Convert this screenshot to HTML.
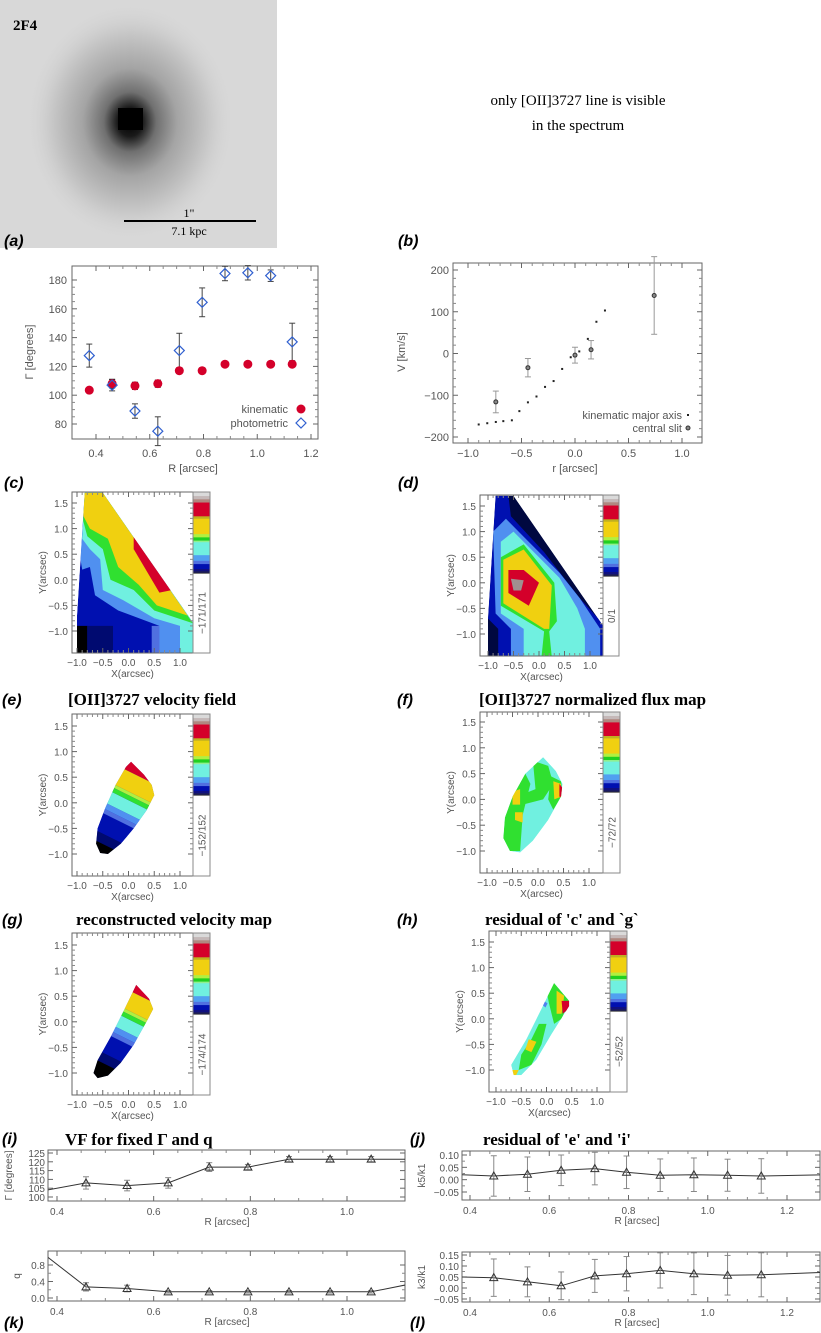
<!DOCTYPE html>
<html><head><meta charset="utf-8">
<style>
html,body{margin:0;padding:0;background:#fff;overflow:hidden;width:821px;height:1333px;}
svg{display:block;}
text{font-family:"Liberation Sans",sans-serif;}
.tk{font-size:11px;fill:#555;}
.tks{font-size:10px;fill:#555;}
.ttl{font-family:"Liberation Serif",serif;font-weight:bold;font-size:17px;fill:#000;}
.pl{font-family:"Liberation Sans",sans-serif;font-weight:bold;font-style:italic;font-size:16px;fill:#000;}
</style></head>
<body>
<svg id="fig" width="821" height="1333" viewBox="0 0 821 1333" xmlns="http://www.w3.org/2000/svg">
<defs>
<radialGradient id="gal" cx="0.5" cy="0.5" r="0.5">
<stop offset="0" stop-color="#000"/>
<stop offset="0.12" stop-color="#1a1a1a"/>
<stop offset="0.25" stop-color="#707070"/>
<stop offset="0.45" stop-color="#a4a4a4"/>
<stop offset="0.75" stop-color="#c8c8c8"/>
<stop offset="1" stop-color="#d8d8d8" stop-opacity="0"/>
</radialGradient>
</defs>
<g>
<rect x="0" y="0" width="277" height="248" fill="#d8d8d8"/>
<ellipse cx="130" cy="122" rx="105" ry="120" fill="url(#gal)"/>
<rect x="118" y="108" width="25" height="22" fill="#000"/>
<text x="13" y="30" style="font-family:'Liberation Serif',serif;font-weight:bold;font-size:15px;">2F4</text>
<text x="189" y="217" text-anchor="middle" style="font-family:'Liberation Serif',serif;font-size:12px;">1"</text>
<line x1="124" y1="221" x2="256" y2="221" stroke="#000" stroke-width="2"/>
<text x="189" y="235" text-anchor="middle" style="font-family:'Liberation Serif',serif;font-size:12px;">7.1 kpc</text>
</g>
<text x="578" y="105" text-anchor="middle" style="font-family:'Liberation Serif',serif;font-size:15px;">only [OII]3727 line is visible</text>
<text x="578" y="130" text-anchor="middle" style="font-family:'Liberation Serif',serif;font-size:15px;">in the spectrum</text>

<text class="pl" x="4" y="246">(a)</text>
<text class="pl" x="398" y="246">(b)</text>
<text class="pl" x="4" y="488">(c)</text>
<text class="pl" x="398" y="488">(d)</text>
<text class="pl" x="2" y="705">(e)</text>
<text class="pl" x="397" y="705">(f)</text>
<text class="pl" x="2" y="925">(g)</text>
<text class="pl" x="397" y="925">(h)</text>
<text class="pl" x="2" y="1144">(i)</text>
<text class="pl" x="410" y="1144">(j)</text>
<text class="pl" x="4" y="1328">(k)</text>
<text class="pl" x="410" y="1328">(l)</text>

<text class="ttl" x="68" y="705">[OII]3727 velocity field</text>
<text class="ttl" x="479" y="705">[OII]3727 normalized flux map</text>
<text class="ttl" x="76" y="925">reconstructed velocity map</text>
<text class="ttl" x="485" y="925">residual of 'c' and `g`</text>
<text class="ttl" x="65" y="1145">VF for fixed Γ and q</text>
<text class="ttl" x="483" y="1145">residual of 'e' and 'i'</text>
</svg>
<script>
// ---------- data ----------
const radiiC = [0.375,0.46,0.545,0.63,0.71,0.795,0.88,0.965,1.05,1.13];
const kinPA = [103.5,108,106.5,108,117,117,121.5,121.5,121.5,121.5];
const kinPAErr = [1,3,2.5,2.5,2,2,1.5,1.5,1.5,1.5];
const photPA = [127.5,107,89,75,131,164.5,184.5,185,183,137];
const photPAErr = [8,4,5,10,12,10,5,5,4,13];
const paTicks = [80,100,120,140,160,180];
const rTicksC = [0.4,0.6,0.8,1.0,1.2];

const kinAxisR = [-0.9,-0.82,-0.74,-0.67,-0.59,-0.52,-0.44,-0.36,-0.28,-0.2,-0.12,-0.04,0.04,0.12,0.2,0.28];
const kinAxisV = [-170,-167,-164,-162,-160,-138,-117,-103,-80,-66,-37,-9,5,35,76,103];
const slitR = [-0.74,-0.44,0,0.15,0.74];
const slitV = [-116,-34,-4,9,139];
const slitErr = [26,22,19,22,93];
const vTicks = [-200,-100,0,100,200];
const rTicksD = [-1.0,-0.5,0.0,0.5,1.0];

const radiiI = [0.38,0.46,0.545,0.63,0.715,0.795,0.88,0.965,1.05,1.135];
const fixedPA = [104,108,106.5,108,117,117,121.5,121.5,121.5,121.5];
const fixedPAErr = [0,3.5,3,3,2.5,1.5,1.5,1.5,1.5,0];
const fixedQ = [1.0,0.27,0.23,0.15,0.15,0.15,0.15,0.15,0.15,0.35];
const fixedQErr = [0,0.1,0.08,0.03,0.03,0.03,0.03,0.03,0.03,0];
const radiiJ = [0.38,0.46,0.545,0.63,0.715,0.795,0.88,0.965,1.05,1.135,1.3];
const k5 = [0.02,0.015,0.022,0.038,0.045,0.03,0.018,0.02,0.018,0.015,0.02];
const k5Err = [0,0.082,0.07,0.062,0.066,0.066,0.066,0.068,0.065,0.07,0];
const k3 = [0.05,0.047,0.028,0.01,0.055,0.065,0.08,0.065,0.058,0.06,0.072];
const k3Err = [0,0.085,0.068,0.063,0.075,0.078,0.08,0.095,0.09,0.1,0];

// map contour polygons in arcsec (x,y pairs)
const mapCShape = [[-0.85,1.7],[-0.5,1.7],[1.3,-0.9],[1.3,-1.45],[-1,-1.45],[-1,-0.7]];
const mapCBands = [
 ['#5070e0',[[0.45,-1.45],[0.45,-0.9],[1.3,-0.9],[1.3,-1.45]]],
 ['#5090f0',[[-0.85,1.7],[-0.5,1.7],[1.3,-0.9],[1.3,-1.45],[0.6,-1.45],[0.6,-0.9],[-0.2,-0.6],[-0.65,-0.3],[-0.75,0.25],[-0.9,0.2],[-0.95,0.5]]],
 ['#70f0e0',[[-0.85,1.7],[-0.5,1.7],[1.3,-0.9],[1.3,-1.45],[1.0,-1.45],[1.0,-0.9],[0.5,-0.75],[-0.1,-0.4],[-0.5,-0.2],[-0.55,0.4],[-0.75,0.6],[-0.9,0.8]]],
 ['#30e030',[[-0.85,1.7],[-0.5,1.7],[1.25,-0.85],[0.5,-0.6],[0.1,-0.2],[-0.35,0.0],[-0.5,0.6],[-0.8,0.85],[-0.88,1.15]]],
 ['#f0d010',[[-0.85,1.7],[-0.5,1.7],[1.15,-0.7],[0.55,-0.5],[0.2,-0.1],[-0.2,0.25],[-0.4,0.8],[-0.75,1.0],[-0.88,1.25]]],
 ['#d4002a',[[0.1,0.85],[0.85,-0.2],[0.6,-0.25],[0.1,0.6]]],
 ['#000000',[[-1,-0.9],[-0.8,-0.9],[-0.8,-1.45],[-1,-1.45]]],
 ['#000a70',[[-0.8,-0.9],[-0.3,-0.9],[-0.3,-1.45],[-0.8,-1.45]]]
];
const mapDBands = [
 ['#0010b0',[[-0.85,1.7],[-0.6,1.7],[-0.55,1.3],[0.1,0.6],[0.8,-0.3],[1.3,-0.85],[1.3,-1.45],[-0.8,-1.45],[-0.8,-0.9],[-1,-0.7]]],
 ['#5090f0',[[-0.9,1.0],[-0.65,1.25],[-0.3,0.9],[0.4,0.2],[0.8,-0.3],[1.2,-0.9],[1.2,-1.45],[-0.55,-1.45],[-0.55,-0.9],[-0.85,-0.6]]],
 ['#70f0e0',[[-0.75,0.8],[-0.5,1.0],[0.4,0.1],[0.75,-0.5],[0.9,-0.9],[0.9,-1.45],[-0.3,-1.45],[-0.3,-0.9],[-0.75,-0.6]]],
 ['#30e030',[[-0.75,0.5],[-0.3,0.75],[0.3,0.0],[0.35,-0.75],[0.2,-0.95],[0.25,-1.45],[0.05,-1.45],[0.1,-0.95],[-0.75,-0.45]]],
 ['#f0d010',[[-0.7,0.45],[-0.3,0.65],[0.25,-0.05],[0.2,-0.9],[0.1,-0.9],[-0.7,-0.4]]],
 ['#d4002a',[[-0.6,0.25],[-0.3,0.25],[0.0,0.0],[-0.2,-0.45],[-0.6,-0.2]]],
 ['#a09090',[[-0.55,0.08],[-0.3,0.05],[-0.35,-0.15],[-0.5,-0.15]]]
];
const mapEShape = [[0.05,0.8],[0.3,0.55],[0.45,0.35],[0.5,0.15],[0.35,-0.15],[0.1,-0.5],[-0.15,-0.8],[-0.4,-1.0],[-0.55,-0.98],[-0.63,-0.8],[-0.6,-0.5],[-0.45,-0.1],[-0.25,0.35],[-0.05,0.7]];
const mapGShape = [[0.15,0.72],[0.4,0.45],[0.48,0.25],[0.35,0.0],[0.1,-0.45],[-0.15,-0.8],[-0.4,-1.05],[-0.6,-1.1],[-0.68,-1.0],[-0.6,-0.75],[-0.35,-0.3],[-0.1,0.2]];
const velBandCuts = [-1.05,-0.85,-0.45,-0.35,-0.22,0.05,0.15,0.22,0.62];
const velBandColors = ['#000000','#000a70','#0010b0','#5070e0','#5090f0','#70f0e0','#30e030','#b0f040','#f0d010','#d4002a'];
const mapFShape = [[0.1,0.82],[0.35,0.55],[0.48,0.3],[0.45,0.05],[0.2,-0.4],[-0.1,-0.8],[-0.35,-1.03],[-0.55,-1.0],[-0.68,-0.75],[-0.65,-0.35],[-0.5,0.05],[-0.25,0.5]];
const mapFPatches = [
 ['#30e030',[[-0.68,-0.75],[-0.65,-0.35],[-0.5,0.05],[-0.25,0.5],[-0.15,0.3],[-0.3,-0.3],[-0.35,-1.0],[-0.55,-1.0]]],
 ['#30e030',[[-0.1,0.75],[0.2,0.65],[0.3,0.3],[0.1,0.0],[-0.3,-0.1],[-0.3,0.1],[-0.05,0.2]]],
 ['#30e030',[[0.25,0.45],[0.45,0.35],[0.48,0.1],[0.3,-0.2],[0.2,0.0]]],
 ['#f0d010',[[-0.5,0.15],[-0.35,0.2],[-0.35,-0.1],[-0.5,-0.1]]],
 ['#f0d010',[[-0.45,-0.25],[-0.3,-0.25],[-0.3,-0.45],[-0.45,-0.4]]],
 ['#f0d010',[[0.3,0.35],[0.45,0.3],[0.45,0.05],[0.32,0.0]]],
 ['#d4002a',[[0.42,0.3],[0.5,0.2],[0.48,0.05],[0.42,0.05]]]
];
const mapHShape = [[0.15,0.7],[0.45,0.35],[0.45,0.25],[0.1,-0.3],[-0.2,-0.8],[-0.5,-1.1],[-0.65,-1.1],[-0.7,-0.9],[-0.4,-0.4],[-0.1,0.2]];
const mapHPatches = [
 ['#30e030',[[0.0,0.55],[0.15,0.7],[0.45,0.35],[0.3,0.0],[0.15,-0.1],[0.05,0.3]]],
 ['#30e030',[[-0.15,-0.1],[0.0,-0.1],[-0.1,-0.5],[-0.3,-0.9],[-0.55,-1.0],[-0.5,-0.7],[-0.3,-0.4]]],
 ['#f0d010',[[0.2,0.55],[0.35,0.45],[0.3,0.1],[0.2,0.1]]],
 ['#f0d010',[[-0.35,-0.4],[-0.2,-0.45],[-0.3,-0.65],[-0.42,-0.6]]],
 ['#f0d010',[[-0.68,-1.0],[-0.55,-1.0],[-0.6,-1.1],[-0.68,-1.1]]],
 ['#5080f0',[[-0.05,0.35],[0.02,0.3],[-0.02,0.22],[-0.08,0.27]]],
 ['#d4002a',[[0.3,0.35],[0.45,0.35],[0.45,0.2],[0.32,0.1]]]
];
const cbarColors = ['#dadada','#c4b8b8','#b08880','#d4002a','#c0b020','#f0d010','#b0f040','#20d020','#90f090','#70f0e0','#50a0f0','#5070e0','#0010b0','#101080','#202050','#000000'];
const cbarStops = [0,0.05,0.09,0.13,0.3,0.33,0.52,0.56,0.6,0.62,0.78,0.85,0.89,0.95,0.98,1.0,1.0];

// ---------- helpers ----------
const svg = document.getElementById('fig');
const NS = 'http://www.w3.org/2000/svg';
function add(parent, tag, attrs, name) {
  const el = document.createElementNS(NS, tag);
  for (const k in attrs) el.setAttribute(k, attrs[k]);
  
  
  parent.appendChild(el);
  return el;
}
function lin(d0,d1,r0,r1){ return v => r0 + (v-d0)*(r1-r0)/(d1-d0); }
function txt(parent, x, y, s, cls, anchor, name, rot) {
  const t = add(parent, 'text', {x:x, y:y, class:cls, 'text-anchor':anchor||'middle'}, name);
  if (rot) t.setAttribute('transform', 'rotate(-90 '+x+' '+y+')');
  t.textContent = s;
  return t;
}
function frame(g, x0,y0,x1,y1, xs, ys, xt, yt, xfmt, yfmt, cls, xlabY, ylabX, minorX, minorY) {
  add(g,'rect',{x:x0,y:y0,width:x1-x0,height:y1-y0,fill:'none',stroke:'#666','stroke-width':1},'plot-frame');
  xt.forEach(v => {
    const x = xs(v);
    add(g,'line',{x1:x,y1:y1,x2:x,y2:y1-5,stroke:'#666'},'x-tick');
    add(g,'line',{x1:x,y1:y0,x2:x,y2:y0+5,stroke:'#666'},'x-tick-top');
    txt(g, x, xlabY, xfmt(v), cls, 'middle', 'x-tick-label');
  });
  yt.forEach(v => {
    const y = ys(v);
    add(g,'line',{x1:x0,y1:y,x2:x0+5,y2:y,stroke:'#666'},'y-tick');
    add(g,'line',{x1:x1,y1:y,x2:x1-5,y2:y,stroke:'#666'},'y-tick-right');
    txt(g, ylabX, y+4, yfmt(v), cls, 'end', 'y-tick-label');
  });
  if (minorX) { for (let i=0;i<xt.length-1;i++){ for(let k=1;k<minorX;k++){ const x=xs(xt[i]+(xt[i+1]-xt[i])*k/minorX);
    add(g,'line',{x1:x,y1:y1,x2:x,y2:y1-3,stroke:'#888'},'x-minor-tick');
    add(g,'line',{x1:x,y1:y0,x2:x,y2:y0+3,stroke:'#888'},'x-minor-tick-top'); } } }
  if (minorY) { for (let i=0;i<yt.length-1;i++){ for(let k=1;k<minorY;k++){ const y=ys(yt[i]+(yt[i+1]-yt[i])*k/minorY);
    add(g,'line',{x1:x0,y1:y,x2:x0+3,y2:y,stroke:'#888'},'y-minor-tick');
    add(g,'line',{x1:x1,y1:y,x2:x1-3,y2:y,stroke:'#888'},'y-minor-tick-right'); } } }
}
const f1 = v => v.toFixed(1);
const f0 = v => String(v).replace('-', '\u2212');
const f1m = v => v.toFixed(1).replace('-', '\u2212');
const f2m = v => v.toFixed(2).replace('-', '\u2212');
function errbar(g, x, y0, y1, color, name) {
  add(g,'line',{x1:x,y1:y0,x2:x,y2:y1,stroke:color,'stroke-width':1},name);
  add(g,'line',{x1:x-3,y1:y0,x2:x+3,y2:y0,stroke:color},name+'-cap');
  add(g,'line',{x1:x-3,y1:y1,x2:x+3,y2:y1,stroke:color},name+'-cap');
}
function pts(arr, xs, ys){ return arr.map(p => xs(p[0]).toFixed(1)+','+ys(p[1]).toFixed(1)).join(' '); }

// ---------- panel c: PA ----------
(function(){
  const g = add(svg,'g',{},'pa-chart');
  const xs = lin(0.4,1.2,96,311), ys = lin(80,180,424,280);
  frame(g,72,266,318,439,xs,ys,rTicksC,paTicks,f1,f0,'tk',457,67,4,4);
  txt(g,33,352,'Γ [degrees]','tk','middle','y-axis-title',true);
  txt(g,193,472,'R [arcsec]','tk','middle','x-axis-title');
  radiiC.forEach((r,i) => {
    errbar(g, xs(r), ys(photPA[i]-photPAErr[i]), ys(photPA[i]+photPAErr[i]), '#444', 'photometric-error');
    errbar(g, xs(r), ys(kinPA[i]-kinPAErr[i]), ys(kinPA[i]+kinPAErr[i]), '#222', 'kinematic-error');
    add(g,'circle',{cx:xs(r),cy:ys(kinPA[i]),r:4.5,fill:'#d4002a'},'kinematic-point');
    const x=xs(r), y=ys(photPA[i]);
    add(g,'polygon',{points:`${x},${y-5} ${x+5},${y} ${x},${y+5} ${x-5},${y}`,fill:'none',stroke:'#3060d0','stroke-width':1.2},'photometric-point');
  });
  txt(g,288,413,'kinematic','tk','end','legend-kinematic');
  add(g,'circle',{cx:301,cy:409,r:4.5,fill:'#d4002a'},'legend-kinematic-marker');
  txt(g,288,427,'photometric','tk','end','legend-photometric');
  add(g,'polygon',{points:'301,418 306,423 301,428 296,423',fill:'none',stroke:'#3060d0','stroke-width':1.2},'legend-photometric-marker');
})();

// ---------- panel d: rotation curve ----------
(function(){
  const g = add(svg,'g',{},'rotation-curve-chart');
  const xs = lin(-1,1,468,682), ys = lin(-200,200,437,270);
  frame(g,453,263,702,443,xs,ys,rTicksD,vTicks,f1m,f0,'tk',457,449,5,5);
  txt(g,405,352,'V [km/s]','tk','middle','y-axis-title',true);
  txt(g,575,472,'r [arcsec]','tk','middle','x-axis-title');
  kinAxisR.forEach((r,i) => add(g,'rect',{x:xs(r)-1,y:ys(kinAxisV[i])-1,width:2,height:2,fill:'#222'},'major-axis-point'));
  slitR.forEach((r,i) => {
    errbar(g, xs(r), ys(slitV[i]-slitErr[i]), ys(slitV[i]+slitErr[i]), '#999', 'slit-error');
    add(g,'circle',{cx:xs(r),cy:ys(slitV[i]),r:2,fill:'#888',stroke:'#333'},'slit-point');
  });
  txt(g,682,419,'kinematic major axis','tk','end','legend-major-axis');
  add(g,'rect',{x:687,y:414,width:2,height:2,fill:'#222'},'legend-major-axis-marker');
  txt(g,682,432,'central slit','tk','end','legend-central-slit');
  add(g,'circle',{cx:688,cy:428,r:2,fill:'#888',stroke:'#333'},'legend-central-slit-marker');
})();

// ---------- maps ----------
let clipId = 0;
function mapPanel(spec){
  const g = add(svg,'g',{},spec.name);
  const xs = lin(-1,1,spec.xm1,spec.xp1), ys = lin(-1,1.5,spec.ym1,spec.yp15);
  const id = 'clip'+(clipId++);
  const defs = add(g,'defs',{},'map-defs');
  const cp = add(defs,'clipPath',{id:id},'map-clip');
  add(cp,'polygon',{points:pts(spec.shape,xs,ys)},'map-clip-shape');
  const fc = 'fclip'+(clipId++);
  const cp2 = add(defs,'clipPath',{id:fc},'frame-clip');
  add(cp2,'rect',{x:spec.x0,y:spec.y0,width:spec.x1-spec.x0,height:spec.y1-spec.y0},'frame-clip-rect');
  const outer = add(g,'g',{'clip-path':'url(#'+fc+')'},'map-area');
  const inner = add(outer,'g',{'clip-path':'url(#'+id+')'},'map-image');
  add(inner,'polygon',{points:pts(spec.shape,xs,ys),fill:spec.base},'map-base');
  if (spec.bands) spec.bands.forEach(b => add(inner,'polygon',{points:pts(b[1],xs,ys),fill:b[0]},'map-contour-band'));
  if (spec.vel) {
    const cuts = [-9].concat(velBandCuts).concat([9]);
    for (let i=0;i<velBandColors.length;i++){
      const a=cuts[i], b=cuts[i+1];
      const poly=[[-2,a+1],[2,a-1],[2,b-1],[-2,b+1]];
      add(inner,'polygon',{points:pts(poly,xs,ys),fill:velBandColors[i]},'velocity-band');
    }
  }
  frame(g,spec.x0,spec.y0,spec.x1,spec.y1,xs,ys,[-1,-0.5,0,0.5,1],[-1,-0.5,0,0.5,1.0,1.5],f1m,f1m,'tks',spec.y1+13,spec.x0-4,5,5);
  txt(g,spec.x0-26,(spec.y0+spec.y1)/2,'Y(arcsec)','tks','middle','y-axis-title',true);
  txt(g,(spec.x0+spec.x1)/2,spec.y1+24,'X(arcsec)','tks','middle','x-axis-title');
  const cx0=spec.x1, cx1=spec.cx1, ch=spec.cbEnd-spec.y0;
  for (let i=0;i<cbarColors.length;i++){
    add(g,'rect',{x:cx0,y:spec.y0+cbarStops[i]*ch,width:cx1-cx0,height:(cbarStops[i+1]-cbarStops[i])*ch+0.5,fill:cbarColors[i]},'colorbar-segment');
  }
  add(g,'rect',{x:cx0,y:spec.y0,width:cx1-cx0,height:spec.y1-spec.y0,fill:'none',stroke:'#888'},'colorbar-frame');
  txt(g,(cx0+cx1)/2+4,(spec.cbEnd+spec.y1)/2,spec.cbLabel,'tks','middle','colorbar-range-label',true);
}
mapPanel({name:'velocity-field-map-c',x0:72,y0:492,x1:193,y1:653,cx1:210,cbEnd:573,xm1:77,xp1:180,ym1:631,yp15:503,shape:mapCShape,base:'#0010b0',bands:mapCBands,cbLabel:'\u2212171/171'});
mapPanel({name:'flux-map-d',x0:480,y0:495,x1:603,y1:656,cx1:619,cbEnd:576,xm1:488,xp1:590,ym1:634,yp15:506,shape:mapCShape,base:'#000840',bands:mapDBands,cbLabel:'0/1'});
mapPanel({name:'velocity-field-map-e',x0:72,y0:714,x1:193,y1:876,cx1:210,cbEnd:795,xm1:77,xp1:180,ym1:854,yp15:726,shape:mapEShape,base:'#0010b0',vel:true,cbLabel:'\u2212152/152'});
mapPanel({name:'normalized-flux-map-f',x0:480,y0:712,x1:603,y1:873,cx1:620,cbEnd:792,xm1:487,xp1:589,ym1:851,yp15:722,shape:mapFShape,base:'#70f0e0',bands:mapFPatches,cbLabel:'\u221272/72'});
mapPanel({name:'reconstructed-velocity-map-g',x0:72,y0:933,x1:193,y1:1095,cx1:210,cbEnd:1014,xm1:77,xp1:180,ym1:1073,yp15:945,shape:mapGShape,base:'#0010b0',vel:true,cbLabel:'\u2212174/174'});
mapPanel({name:'residual-map-h',x0:489,y0:931,x1:610,y1:1092,cx1:627,cbEnd:1011,xm1:496,xp1:597,ym1:1070,yp15:942,shape:mapHShape,base:'#70f0e0',bands:mapHPatches,cbLabel:'\u221252/52'});

// ---------- bottom line panels ----------
function linePanel(o){
  const g = add(svg,'g',{},o.name);
  const fc='lclip'+(clipId++);
  const d=add(g,'defs',{},'line-defs');
  const cp=add(d,'clipPath',{id:fc},'line-clip');
  add(cp,'rect',{x:o.x0,y:o.y0,width:o.x1-o.x0,height:o.y1-o.y0},'line-clip-rect');
  frame(g,o.x0,o.y0,o.x1,o.y1,o.xs,o.ys,o.xt,o.yt,f1,o.yfmt,'tks',o.y1+14,o.x0-3,4,o.minorY);
  txt(g,o.ylabX,(o.y0+o.y1)/2,o.ylab,'tks','middle','y-axis-title',true);
  txt(g,o.xlabX,o.y1+24,'R [arcsec]','tks','middle','x-axis-title');
  const inner=add(g,'g',{'clip-path':'url(#'+fc+')'},'series-area');
  add(inner,'polyline',{points:o.r.map((r,i)=>o.xs(r).toFixed(1)+','+o.ys(o.v[i]).toFixed(1)).join(' '),fill:'none',stroke:'#333','stroke-width':1},'series-line');
  o.r.forEach((r,i)=>{
    if (o.e[i]>0){
      errbar(inner,o.xs(r),o.ys(o.v[i]-o.e[i]),o.ys(o.v[i]+o.e[i]),'#888','error-bar');
      const x=o.xs(r), y=o.ys(o.v[i]);
      add(inner,'polygon',{points:`${x},${y-4} ${x+4},${y+3} ${x-4},${y+3}`,fill:'none',stroke:'#333'},'triangle-point');
    }
  });
}
const xsI = lin(0.4,1.0,57,347);
linePanel({name:'pa-fixed-chart-i',x0:48,y0:1150,x1:405,y1:1201,xs:xsI,ys:lin(100,125,1197,1153),xt:[0.4,0.6,0.8,1.0],yt:[100,105,110,115,120,125],yfmt:f0,minorY:1,ylab:'Γ [degrees]',ylabX:12,xlabX:227,r:radiiI,v:fixedPA,e:fixedPAErr});
linePanel({name:'q-fixed-chart-k',x0:48,y0:1251,x1:405,y1:1301,xs:xsI,ys:lin(0,0.8,1298,1265),xt:[0.4,0.6,0.8,1.0],yt:[0,0.4,0.8],yfmt:f1,minorY:2,ylab:'q',ylabX:20,xlabX:227,r:radiiI,v:fixedQ,e:fixedQErr});
const xsJ = lin(0.4,1.2,470,787);
linePanel({name:'k5-chart-j',x0:462,y0:1151,x1:820,y1:1200,xs:xsJ,ys:lin(-0.05,0.10,1192,1155),xt:[0.4,0.6,0.8,1.0,1.2],yt:[-0.05,0,0.05,0.10],yfmt:f2m,minorY:2,ylab:'k5/k1',ylabX:425,xlabX:637,r:radiiJ,v:k5,e:k5Err});
linePanel({name:'k3-chart-l',x0:462,y0:1252,x1:820,y1:1302,xs:xsJ,ys:lin(-0.05,0.15,1299,1255),xt:[0.4,0.6,0.8,1.0,1.2],yt:[-0.05,0,0.05,0.10,0.15],yfmt:f2m,minorY:2,ylab:'k3/k1',ylabX:425,xlabX:637,r:radiiJ,v:k3,e:k3Err});
</script>
</body></html>
